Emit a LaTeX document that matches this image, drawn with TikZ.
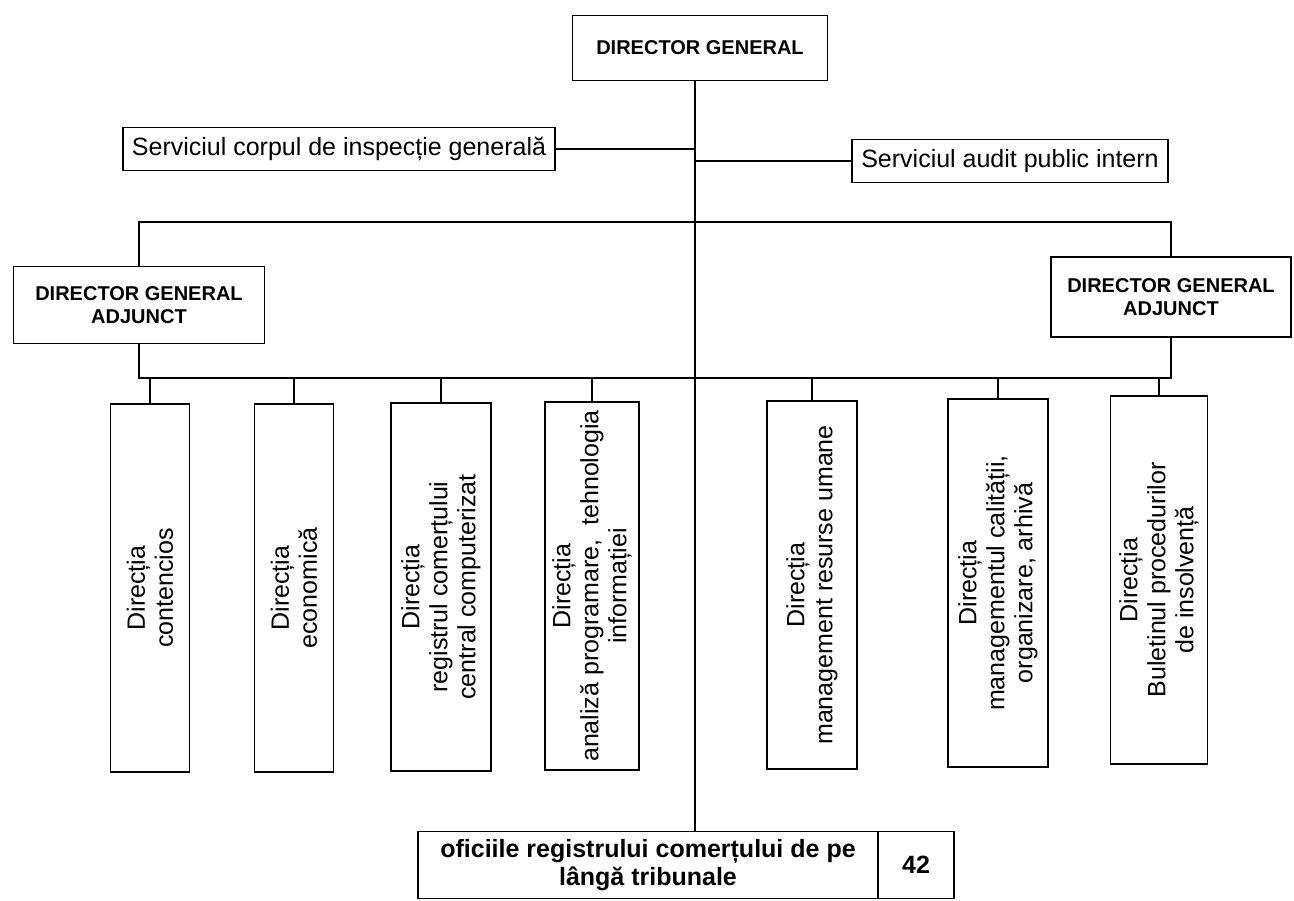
\documentclass[tikz,border=0pt]{standalone}
\usepackage{fontspec}
\setmainfont{Liberation Sans}

\tikzset{
  box/.style={draw, line width=1.7pt, align=center, inner sep=0pt},
  headbox/.style={box, font=\fontsize{20}{23}\selectfont\bfseries},
  servbox/.style={box, font=\fontsize{25}{28}\selectfont, inner xsep=9pt, minimum height=43pt},
  dirbox/.style={box, rotate=90, minimum width=368pt, font=\fontsize{25}{28}\selectfont},
  footbox/.style={box, font=\fontsize{25}{28}\selectfont\bfseries, minimum height=67pt},
  link/.style={line width=1.7pt},
}

\begin{document}
\begin{tikzpicture}[x=1pt, y=1pt]
\useasboundingbox (0,0) rectangle (1294,-901);

% conducere
\node[headbox, minimum width=255pt, minimum height=65pt] (dg) at (700,-48) {DIRECTOR GENERAL};
\node[servbox] (corp) at (339,-149) {Serviciul corpul de inspecție generală};
\node[servbox] (audit) at (1010,-161) {Serviciul audit public intern};
\node[headbox, minimum width=251pt, minimum height=77pt] (dgaL) at (139,-305) {DIRECTOR GENERAL\\ADJUNCT};
\node[headbox, minimum width=240pt, minimum height=80pt] (dgaR) at (1171,-297) {DIRECTOR GENERAL\\ADJUNCT};

% directii
\node[dirbox, minimum height=79pt] (d1) at (150,-588) {Direcția\\contencios};
\node[dirbox, minimum height=79pt] (d2) at (294,-588) {Direcția\\economică};
\node[dirbox, minimum height=100pt] (d3) at (441,-587) {Direcția\\registrul comerțului\\central computerizat};
\node[dirbox, minimum height=94pt] (d4) at (592,-586) {Direcția\\analiză programare,\ \ tehnologia\\informației};
\node[dirbox, minimum height=90pt] (d5) at (812,-585) {Direcția\\management resurse umane};
\node[dirbox, minimum height=100pt] (d6) at (998,-583) {Direcția\\managementul calității,\\organizare, arhivă};
\node[dirbox, minimum height=97pt] (d7) at (1159,-580) {Direcția\\Buletinul procedurilor\\de insolvență};

% oficii
\node[footbox, minimum width=460pt] (oficii) at (648,-865) {oficiile registrului comerțului de pe\\lângă tribunale};
\node[footbox, minimum width=76pt, anchor=west, xshift=-1.7pt] (nr) at (oficii.east) {42};

\coordinate (trunk) at (695,0);
\coordinate (topbar) at (0,-222);
\coordinate (lowbar) at (0,-378);

% legaturi
\draw[link] (dg.south -| trunk) -- (oficii.north -| trunk);
\draw[link] (corp.east) -- (corp.east -| trunk);
\draw[link] (audit.west) -- (audit.west -| trunk);
\draw[link] (dgaL.north) |- (topbar -| dgaR.north) -- (dgaR.north);
\draw[link] (dgaL.south) |- (lowbar -| dgaR.south) -- (dgaR.south);
\foreach \d in {d1,d2,d3,d4,d5,d6,d7}
  \draw[link] (lowbar -| \d.east) -- (\d.east);
\end{tikzpicture}
\end{document}
